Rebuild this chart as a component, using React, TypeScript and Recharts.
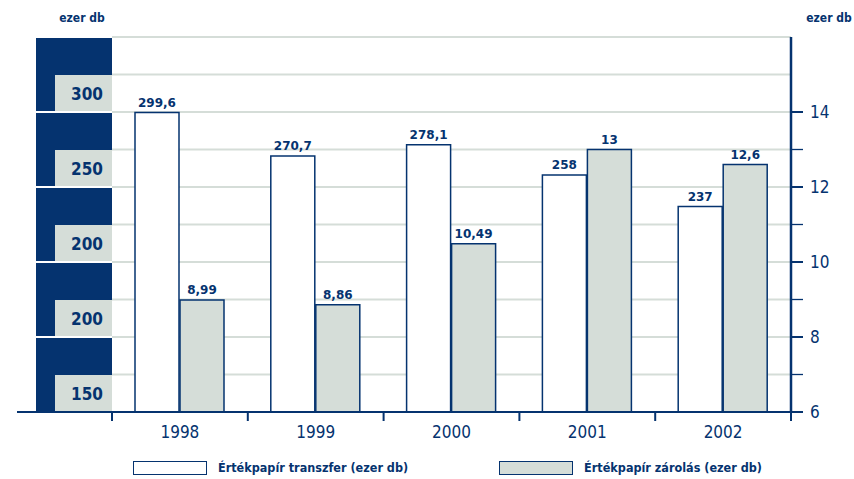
import React from "react";
import {
  BarChart,
  Bar,
  XAxis,
  YAxis,
  CartesianGrid,
  LabelList
} from "recharts";

const NAVY = "#05336f";
const GRAY = "#d5ddd8";
const FONT = "'DejaVu Sans Condensed', 'DejaVu Sans', sans-serif";

const years = ["1998", "1999", "2000", "2001", "2002"];
const transfer = [299.6, 270.7, 278.1, 258, 237];
const blocking = [8.99, 8.86, 10.49, 13, 12.6];

const leftTicks = [100, 150, 200, 250, 300];
const leftLabels = ["150", "200", "200", "250", "300"];
const rightTicks = [6, 7, 8, 9, 10, 11, 12, 13, 14, 15, 16];

const seriesNames = ["Értékpapír transzfer (ezer db)", "Értékpapír zárolás (ezer db)"];
const unitLabel = "ezer db";

const data = years.map((year, i) => ({
  year,
  transfer: transfer[i],
  blocking: blocking[i]
}));

const fmt = (v: any) => String(v).replace(".", ",");

// navy blocks with gray label boxes on the left side
const LeftTick = (props: any) => {
  const { x, y, index } = props;
  return (
    <g>
      <rect x={x - 76} y={y - 74} width={76} height={73} fill={NAVY} />
      <rect x={x - 57} y={y - 37} width={57} height={36} fill={GRAY} />
      <text
        x={x - 9}
        y={y - 12}
        textAnchor="end"
        fill={NAVY}
        fontFamily={FONT}
        fontSize={17}
        fontWeight={600}
      >
        {leftLabels[index]}
      </text>
    </g>
  );
};

const RightTick = (props: any) => {
  const { x, y, payload } = props;
  const v = payload.value;
  if (v > 14) return null;
  const major = v % 2 === 0;
  return (
    <g>
      <line x1={x} x2={x + 12} y1={y} y2={y} stroke={NAVY} strokeWidth={major ? 2 : 1.3} />
      {v === 6 && <line x1={x} x2={x} y1={y} y2={y + 9} stroke={NAVY} strokeWidth={2} />}
      {major && (
        <text x={x + 19} y={y + 6} fill={NAVY} fontFamily={FONT} fontSize={17}>
          {v}
        </text>
      )}
    </g>
  );
};

const YearTick = (props: any) => {
  const { x, y, payload, index } = props;
  const half = payload.offset || 68;
  return (
    <g>
      {index === 0 && (
        <line x1={x - half - 95} x2={x - half} y1={y} y2={y} stroke={NAVY} strokeWidth={2} />
      )}
      <line x1={x - half} x2={x - half} y1={y} y2={y + 9} stroke={NAVY} strokeWidth={2} />
      {index === years.length - 1 && (
        <line x1={x + half} x2={x + half} y1={y} y2={y + 9} stroke={NAVY} strokeWidth={2} />
      )}
      <text x={x} y={y + 26} textAnchor="middle" fill={NAVY} fontFamily={FONT} fontSize={17}>
        {payload.value}
      </text>
    </g>
  );
};

// "ezer db" above an axis; side picks which edge of the axis box to measure from
const unitText = (side: "left" | "right", dx: number) => (props: any) => {
  const vb = props.viewBox || {};
  const base = side === "left" ? vb.x + vb.width : vb.x;
  return (
    <text
      x={base + dx}
      y={vb.y - 15}
      textAnchor="middle"
      fill={NAVY}
      fontFamily={FONT}
      fontSize={12}
      fontWeight={700}
    >
      {unitLabel}
    </text>
  );
};

export default function App() {
  return (
    <div style={{ position: "absolute", left: 0, top: 0, width: 854, height: 479, background: "#fff" }}>
      <BarChart
        width={854}
        height={479}
        data={data}
        margin={{ top: 37, right: 0, left: 0, bottom: 37 }}
        barSize={44}
        barGap={1}
      >
        <CartesianGrid yAxisId="right" vertical={false} stroke={GRAY} strokeWidth={2} />
        <XAxis
          dataKey="year"
          height={30}
          axisLine={{ stroke: NAVY, strokeWidth: 2 }}
          tickLine={false}
          tickSize={0}
          tickMargin={0}
          tick={<YearTick />}
          interval={0}
        />
        <YAxis
          yAxisId="left"
          width={112}
          domain={[100, 350]}
          ticks={leftTicks}
          axisLine={false}
          tickLine={false}
          tickSize={0}
          tickMargin={0}
          tick={<LeftTick />}
          interval={0}
          label={{ content: unitText("left", -30) }}
        />
        <YAxis
          yAxisId="right"
          orientation="right"
          width={63}
          domain={[6, 16]}
          ticks={rightTicks}
          axisLine={{ stroke: NAVY, strokeWidth: 2.5 }}
          tickLine={false}
          tickSize={0}
          tickMargin={0}
          tick={<RightTick />}
          interval={0}
          label={{ content: unitText("right", 38) }}
        />
        <Bar
          yAxisId="left"
          dataKey="transfer"
          name={seriesNames[0]}
          fill="#ffffff"
          stroke={NAVY}
          strokeWidth={1.5}
          isAnimationActive={false}
        >
          <LabelList
            dataKey="transfer"
            position="top"
            offset={6}
            formatter={fmt}
            fill={NAVY}
            fontFamily="'DejaVu Sans', sans-serif"
            fontSize={12}
            fontWeight={700}
          />
        </Bar>
        <Bar
          yAxisId="right"
          dataKey="blocking"
          name={seriesNames[1]}
          fill={GRAY}
          stroke={NAVY}
          strokeWidth={1.5}
          isAnimationActive={false}
        >
          <LabelList
            dataKey="blocking"
            position="top"
            offset={6}
            formatter={fmt}
            fill={NAVY}
            fontFamily="'DejaVu Sans', sans-serif"
            fontSize={12}
            fontWeight={700}
          />
        </Bar>
      </BarChart>
      <div
        style={{
          position: "absolute",
          left: 133,
          top: 461,
          display: "flex",
          gap: 91,
          fontFamily: FONT,
          fontSize: 12.5,
          fontWeight: 700,
          color: NAVY
        }}
      >
        {seriesNames.map((name, i) => (
          <div key={name} style={{ display: "flex", alignItems: "center", gap: 11 }}>
            <div
              style={{
                width: 72,
                height: 12,
                border: `1.5px solid ${NAVY}`,
                background: i === 0 ? "#ffffff" : GRAY
              }}
            />
            <span style={{ lineHeight: "14px" }}>{name}</span>
          </div>
        ))}
      </div>
    </div>
  );
}
